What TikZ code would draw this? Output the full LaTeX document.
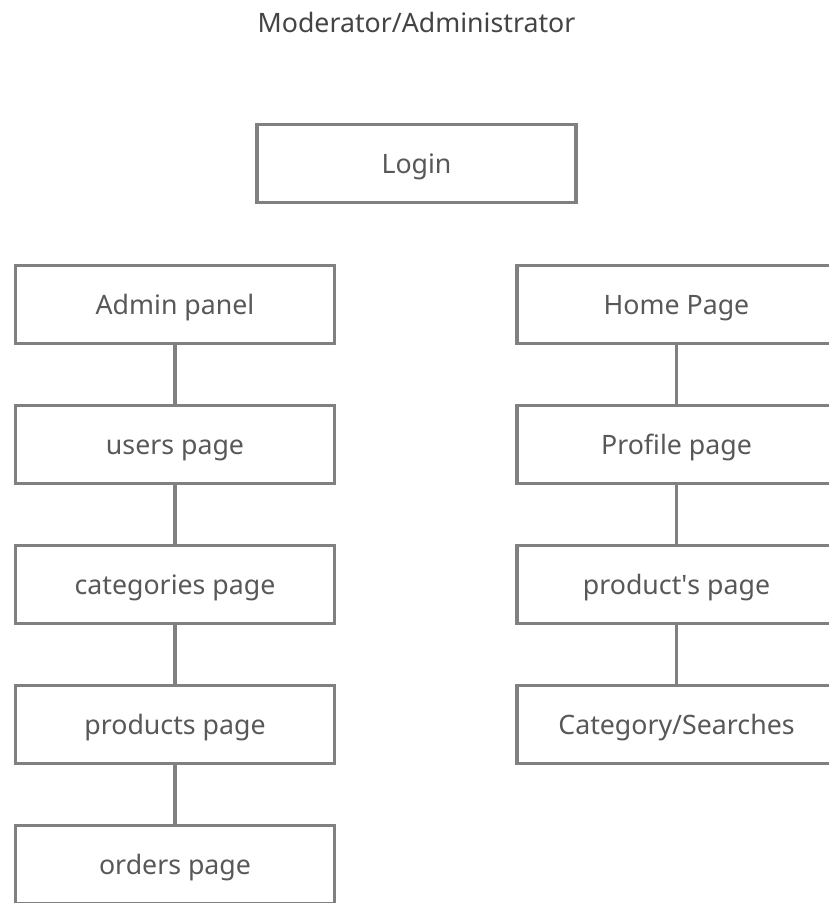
\documentclass[tikz,border=0pt]{standalone}
\usepackage{fontspec}
\setmainfont{Noto Sans}
\usetikzlibrary{positioning}
\definecolor{boxgray}{RGB}{128,128,128}
\definecolor{textgray}{RGB}{88,88,88}
\definecolor{titlegray}{RGB}{68,68,68}

\begin{document}
\begin{tikzpicture}[
  x=0.025cm, y=-0.025cm,
  font=\fontsize{19}{23}\selectfont,
  every node/.style={text height=13.6pt, text depth=0pt},
  page/.style={draw=boxgray, line width=2.3pt, fill=white, text=textgray, inner sep=0pt, minimum width=7.975cm, minimum height=1.95cm},
  link/.style={draw=boxgray, line width=2.3pt}
]
\clip (0,0) rectangle (829,903);
\node[text=titlegray] (title) at (416.5,22.5) {Moderator/Administrator};
\node[page] (login) at (416.5,163.5) {Login};
% admin side
\foreach \y/\name/\id in {304.5/Admin panel/1,444.5/users page/2,584.5/categories page/3,724.5/products page/4,864.5/orders page/5} {
  \node[page] (l\id) at (175,\y) {\name};
}
% user side
\foreach \y/\name/\id in {304.5/Home Page/1,444.5/Profile page/2,584.5/product\textquotesingle s page/3,724.5/{Category/Searches}/4} {
  \node[page] (r\id) at (676.5,\y) {\name};
}
\foreach \i/\j in {1/2,2/3,3/4,4/5} {
  \draw[link] (l\i.south) -- (l\j.north);
}
\foreach \i/\j in {1/2,2/3,3/4} {
  \draw[link] (r\i.south) -- (r\j.north);
}
\end{tikzpicture}
\end{document}
